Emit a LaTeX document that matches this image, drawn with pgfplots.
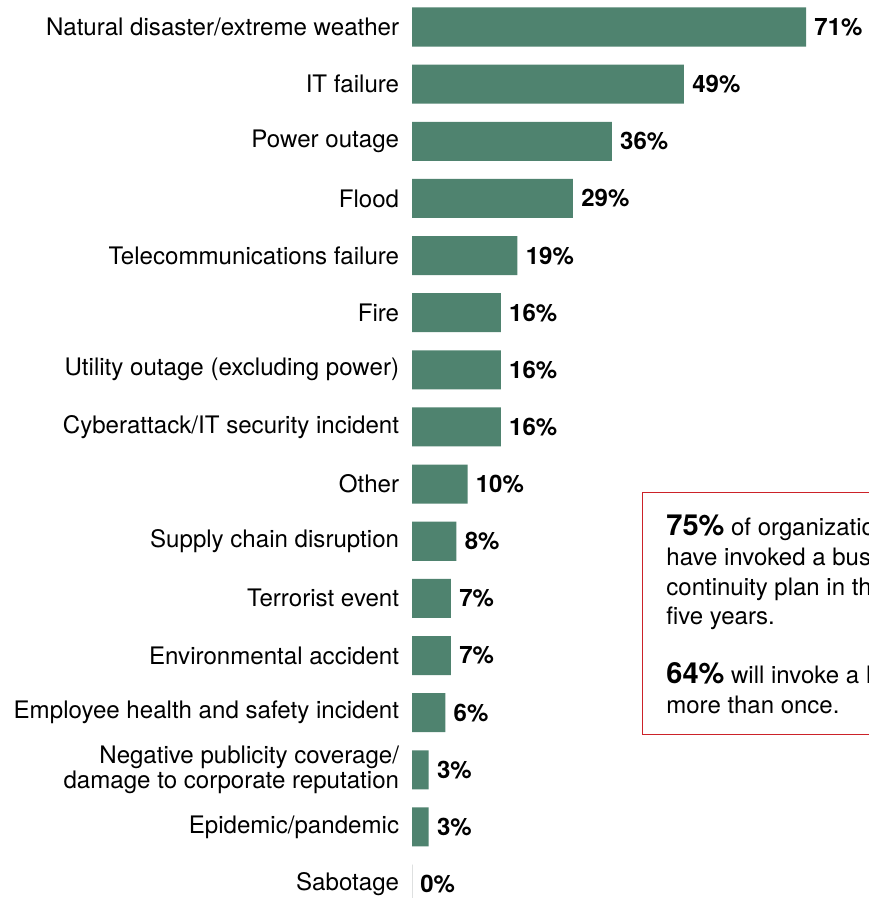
\documentclass[border=0pt]{standalone}
\usepackage{fontspec}
\setmainfont{TeX Gyre Heros}
\usepackage{pgfplots}
\pgfplotsset{compat=1.18}
\definecolor{bargreen}{HTML}{4F836F}
\definecolor{boxred}{HTML}{CC2229}
% 1 px of the reference = 0.5pt
\newcommand{\px}[1]{#1*0.5pt}

\begin{document}
\begin{tikzpicture}
\path[use as bounding box] (0,0) rectangle (434pt,-449pt);
\begin{axis}[
   at={(206pt,0.785pt)}, anchor=north west,
   scale only axis,
   width=228pt, height=457.1pt,
   xbar, bar shift=0pt, bar width=0.683,
   xmin=0, xmax=82.16,
   ymin=-0.5, ymax=15.5, y dir=reverse,
   axis line style={draw=none},
   tick style={draw=none},
   xtick=\empty,
   ytick={0,...,15},
   yticklabels={Natural disaster/extreme weather, IT failure, Power outage, Flood,
      Telecommunications failure, Fire, Utility outage (excluding power),
      Cyberattack/IT security incident, Other, Supply chain disruption,
      Terrorist event, Environmental accident, Employee health and safety incident,
      {Negative publicity coverage/\\damage to corporate reputation},
      Epidemic/pandemic, Sabotage},
   yticklabel style={font=\fontsize{12.05}{11.4}\selectfont, align=right,
      inner sep=0pt, anchor=east, xshift=-2pt},
   /pgf/number format/assume math mode=true,
   nodes near coords={\textbf{\pgfmathprintnumber{\pgfplotspointmeta}\%}},
   every node near coord/.append style={font=\fontsize{12}{14}\selectfont,
      anchor=west, inner sep=0pt, xshift=4pt},
   clip=false,
]
\addplot[draw=none, fill=bargreen] coordinates {
   (71,0) (49,1) (36,2) (29,3) (19,4) (16,5) (16,6) (16,7)
   (10,8) (8,9) (7,10) (7,11) (6,12) (3,13) (3,14) (0,15)};
\addplot[draw=black!15, fill=none, nodes near coords={}] coordinates {(0,15)};
\end{axis}
% callout box, cut by the right edge as in the reference
\draw[boxred, line width=0.5pt] (\px{642},-\px{492}) rectangle (\px{920},-\px{734});
\begin{scope}[every node/.style={anchor=base west, inner sep=0pt,
      font=\fontsize{12}{14}\selectfont}]
\node at (\px{666},-\px{535}) {{\fontsize{14.5}{16}\selectfont\bfseries 75\%} of organizations};
\node at (\px{666},-\px{565}) {have invoked a business};
\node at (\px{666},-\px{595}) {continuity plan in the past};
\node at (\px{666},-\px{624}) {five years.};
\node at (\px{666},-\px{683}) {{\fontsize{14.5}{16}\selectfont\bfseries 64\%} will invoke a BCP};
\node at (\px{666},-\px{713}) {more than once.};
\end{scope}
\end{tikzpicture}
\end{document}
